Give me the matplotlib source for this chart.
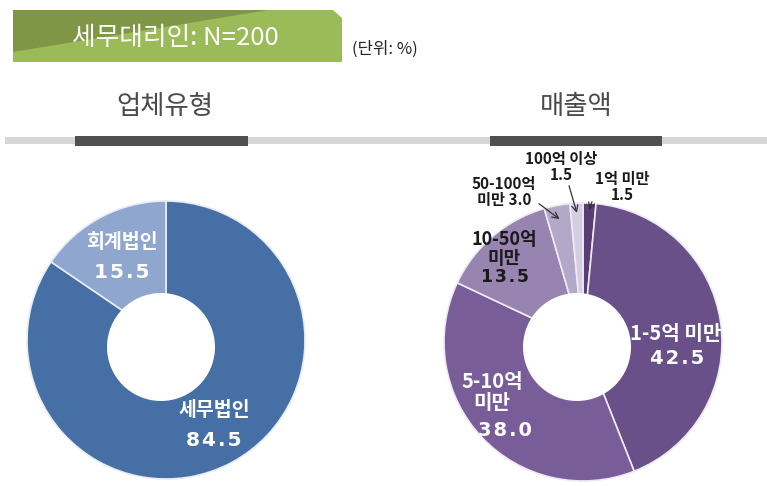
import matplotlib
matplotlib.use("Agg")
import matplotlib.pyplot as plt
from matplotlib.patches import Polygon, Rectangle, Circle
import numpy as np

plt.rcParams['font.family'] = ['Noto Sans CJK KR', 'DejaVu Sans']
NUM_FONT = 'DejaVu Sans'

# ---- data ----
title_text = "세무대리인: N=200"
unit_text = "(단위: %)"
left_title = "업체유형"
right_title = "매출액"

type_labels = ["세무법인", "회계법인"]
type_values = [84.5, 15.5]

sales_labels = ["1억 미만", "1-5억 미만", "5-10억\n미만", "10-50억\n미만", "50-100억\n미만", "100억 이상"]
sales_values = [1.5, 42.5, 38.0, 13.5, 3.0, 1.5]

# ---- figure ----
W, H = 767, 486
fig = plt.figure(figsize=(W / 100, H / 100), dpi=100)
ax = fig.add_axes([0, 0, 1, 1])

def Y(y):
    return H - y

def spaced(v):
    return "\u200a".join(f"{v:.1f}")

# banner
banner = Polygon([(13, Y(10)), (333, Y(10)), (342, Y(18)), (342, Y(62)), (13, Y(62))],
                 closed=True, facecolor="#9BBB59", edgecolor="none")
ax.add_patch(banner)
dark = Polygon([(13, Y(10)), (268, Y(10)), (13, Y(52))], closed=True,
               facecolor="#7E9645", edgecolor="none")
ax.add_patch(dark)
ax.text(175, Y(38), title_text, ha="center", va="center", color="white",
        fontsize=18.5)
ax.text(352, Y(49), unit_text, ha="left", va="center", color="#222222", fontsize=12)

# section headers
ax.text(165, Y(106), left_title, ha="center", va="center", color="#4a4a4a", fontsize=19)
ax.text(576, Y(106), right_title, ha="center", va="center", color="#4a4a4a", fontsize=19)
ax.add_patch(Rectangle((5, Y(144)), 762, 7, facecolor="#D6D6D6", edgecolor="none"))
ax.add_patch(Rectangle((75, Y(146)), 173, 10, facecolor="#505050", edgecolor="none"))
ax.add_patch(Rectangle((490, Y(146)), 172, 10, facecolor="#505050", edgecolor="none"))

# left donut
lc = (166, Y(340))
R = 139
type_colors = ["#4670A5", "#8FA6CE"]
ax.pie(type_values, colors=type_colors, startangle=90, counterclock=False,
       center=lc, radius=R, wedgeprops=dict(edgecolor="#E8ECF4", linewidth=1.2))
ax.add_patch(Circle((161, Y(347)), 54, facecolor="white", edgecolor="none", zorder=5))
lab_kw = dict(ha="center", va="center", color="white", fontsize=14, fontweight="bold", zorder=6)
num_kw = dict(lab_kw, family=NUM_FONT, fontsize=14.5)
ax.text(122, Y(243), type_labels[1], **lab_kw)
ax.text(122, Y(273), spaced(type_values[1]), **num_kw)
ax.text(214, Y(411), type_labels[0], **lab_kw)
ax.text(214, Y(441), spaced(type_values[0]), **num_kw)

# right donut
rc = (583, Y(342))
sales_colors = ["#573F75", "#6A5089", "#795D99", "#9784B1", "#B3A8C8", "#D4CEE2"]
ax.pie(sales_values, colors=sales_colors, startangle=90, counterclock=False,
       center=rc, radius=R, wedgeprops=dict(edgecolor="#EEEAF3", linewidth=1.2))
ax.add_patch(Circle((577, Y(347)), 54, facecolor="white", edgecolor="none", zorder=5))

# inside labels
in_kw = dict(ha="center", va="center", color="white", fontsize=14.5, fontweight="bold",
             zorder=6, linespacing=1.0)
in_num = dict(in_kw, family=NUM_FONT, fontsize=14)
ax.text(676, Y(334), sales_labels[1], **in_kw)
ax.text(677, Y(358), spaced(sales_values[1]), **in_num)
ax.text(492, Y(392), sales_labels[2], **in_kw)
ax.text(505, Y(430), spaced(sales_values[2]), **in_num)
ax.text(504, Y(249), sales_labels[3], ha="center", va="center",
        color="#1a1a1a", fontsize=13, fontweight="bold", linespacing=1.0, zorder=6)
ax.text(505, Y(277), spaced(sales_values[3]), ha="center", va="center",
        color="#1a1a1a", fontsize=12.5, fontweight="bold", family=NUM_FONT, zorder=6)

# outside labels with arrows
cum = np.cumsum([0] + sales_values)
def edge_point(i, rfrac):
    mid = (cum[i] + cum[i + 1]) / 2
    ang = np.deg2rad(90 - mid * 3.6)
    return (rc[0] + R * rfrac * np.cos(ang), rc[1] + R * rfrac * np.sin(ang))

arrow = dict(arrowstyle="->", color="#333333", lw=0.9)
out_kw = dict(ha="center", va="center", fontsize=11, fontweight="bold", color="#1a1a1a",
              linespacing=1.0, zorder=6)
first, second = sales_labels[4].split("\n")
ax.annotate(first + "\n" + second + f" {sales_values[4]:.1f}",
            xy=edge_point(4, 0.9), xytext=(504, Y(192)), **out_kw,
            arrowprops=dict(arrow, shrinkA=0, shrinkB=0, relpos=(1.0, 0.2)))
ax.annotate(sales_labels[5] + f"\n{sales_values[5]:.1f}", xy=edge_point(5, 0.93),
            xytext=(561, Y(167)), **out_kw,
            arrowprops=dict(arrow, shrinkA=0, shrinkB=0, relpos=(0.6, 0.0)))
ax.annotate(sales_labels[0] + f"\n{sales_values[0]:.1f}", xy=edge_point(0, 0.95),
            xytext=(622, Y(187)), **out_kw,
            arrowprops=dict(arrow, shrinkA=0, shrinkB=0, relpos=(0.0, 0.3)))

ax.set_xlim(0, W)
ax.set_ylim(0, H)
ax.set_aspect("equal")
ax.axis("off")

fig.savefig("out.png", dpi=100)
